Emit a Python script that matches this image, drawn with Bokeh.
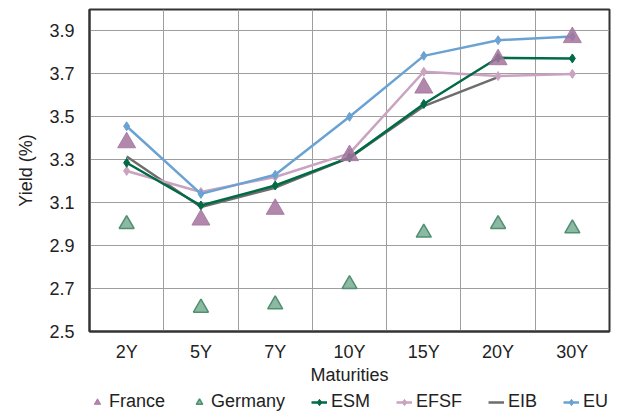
from bokeh.plotting import figure
from bokeh.layouts import column
from bokeh.models import FixedTicker, Legend, LegendItem, ColumnDataSource
from bokeh.embed import file_html
from bokeh.resources import INLINE

maturities = ["2Y", "5Y", "7Y", "10Y", "15Y", "20Y", "30Y"]
france = [3.38, 3.02, 3.07, 3.32, 3.635, 3.767, 3.87]
germany = [3.00, 2.61, 2.626, 2.72, 2.96, 3.00, 2.98]
esm = [3.286, 3.087, 3.18, 3.31, 3.56, 3.775, 3.772]
efsf = [3.248, 3.15, 3.22, 3.33, 3.71, 3.69, 3.70]
eib = [3.315, 3.08, 3.17, 3.31, 3.55, 3.685, float("nan")]
eu = [3.456, 3.141, 3.23, 3.50, 3.784, 3.857, 3.874]
y_ticks = [2.5, 2.7, 2.9, 3.1, 3.3, 3.5, 3.7, 3.9]

xpos = [i + 0.5 for i in range(len(maturities))]
src = ColumnDataSource(dict(x=xpos, france=france, germany=germany, esm=esm,
                            efsf=efsf, eib=eib, eu=eu))

FONT = "Liberation Sans"
TXT = "#222222"

C_FRA = "#a3739d"
C_GER_F, C_GER_L = "#8db8a2", "#4f8f72"
C_ESM = "#006b45"
C_EFSF = "#c9a3c0"
C_EIB = "#6d6d6d"
C_EU = "#6aa3d3"
LW = 2.5


def draw(fig):
    """Draw all series on a figure; return renderers for the legend."""
    r = {}
    r["eib"] = fig.line("x", "eib", source=src, line_color=C_EIB, line_width=LW)
    r["efsf_l"] = fig.line("x", "efsf", source=src, line_color=C_EFSF, line_width=LW)
    r["efsf_m"] = fig.scatter("x", "efsf", source=src, marker="diamond", size=9,
                              fill_color=C_EFSF, line_color=C_EFSF)
    r["esm_l"] = fig.line("x", "esm", source=src, line_color=C_ESM, line_width=LW)
    r["esm_m"] = fig.scatter("x", "esm", source=src, marker="diamond", size=9,
                             fill_color=C_ESM, line_color=C_ESM)
    r["eu_l"] = fig.line("x", "eu", source=src, line_color=C_EU, line_width=LW)
    r["eu_m"] = fig.scatter("x", "eu", source=src, marker="diamond", size=9,
                            fill_color=C_EU, line_color=C_EU)
    r["ger"] = fig.scatter("x", "germany", source=src, marker="triangle", size=15,
                           fill_color=C_GER_F, line_color=C_GER_L, line_width=1.5)
    r["fra"] = fig.scatter("x", "france", source=src, marker="triangle", size=18,
                           fill_color=C_FRA, fill_alpha=0.85, line_color=C_FRA, line_alpha=0.85)
    return r


p = figure(width=625, height=391, x_range=(0, len(maturities)), y_range=(2.5, 4.0),
           output_backend="svg", toolbar_location=None,
           min_border_left=89, min_border_right=16, min_border_top=9, min_border_bottom=60)

p.outline_line_color = "#333333"
p.outline_line_width = 2

p.xaxis.ticker = FixedTicker(ticks=xpos)
p.xaxis.major_label_overrides = {x: m for x, m in zip(xpos, maturities)}
p.yaxis.ticker = FixedTicker(ticks=y_ticks)
for ax in (p.xaxis[0], p.yaxis[0]):
    ax.major_tick_line_color = None
    ax.minor_tick_line_color = None
    ax.axis_line_color = "#333333"
    ax.axis_line_width = 2
    ax.major_label_text_font = FONT
    ax.major_label_text_font_size = "18px"
    ax.major_label_text_color = TXT
    ax.axis_label_text_font = FONT
    ax.axis_label_text_font_size = "18px"
    ax.axis_label_text_font_style = "normal"
    ax.axis_label_text_color = TXT
p.xaxis.axis_label = "Maturities"
p.yaxis.axis_label = "Yield (%)"
p.xaxis.major_label_standoff = 4
p.xaxis.axis_label_standoff = 0
p.yaxis.major_label_standoff = 9
p.yaxis.axis_label_standoff = 10

p.xgrid.ticker = FixedTicker(ticks=list(range(1, len(maturities))))
p.ygrid.ticker = FixedTicker(ticks=y_ticks)
for g in (p.xgrid[0], p.ygrid[0]):
    g.grid_line_color = "#9e9e9e"
    g.grid_line_width = 1

draw(p)

# legend strip: same series, drawn outside its visible range, only the legend shows
lg = figure(width=625, height=21, x_range=(100, 101), y_range=(100, 101),
            output_backend="svg", toolbar_location=None,
            x_axis_location=None, y_axis_location=None,
            min_border_left=89, min_border_right=16, min_border_top=0, min_border_bottom=0)
lg.outline_line_color = None
lg.grid.visible = False
lr = draw(lg)

legend = Legend(items=[
    LegendItem(label="France", renderers=[lr["fra"]]),
    LegendItem(label="Germany", renderers=[lr["ger"]]),
    LegendItem(label="ESM", renderers=[lr["esm_l"], lr["esm_m"]]),
    LegendItem(label="EFSF", renderers=[lr["efsf_l"], lr["efsf_m"]]),
    LegendItem(label="EIB", renderers=[lr["eib"]]),
    LegendItem(label="EU", renderers=[lr["eu_l"], lr["eu_m"]]),
], orientation="horizontal", location=(0, 0))
legend.label_text_font = FONT
legend.label_text_font_size = "18px"
legend.label_text_color = TXT
legend.glyph_width = 16
legend.glyph_height = 20
legend.label_height = 20
legend.label_standoff = 4
legend.spacing = 26
legend.padding = 0
legend.margin = 0
legend.border_line_color = None
legend.background_fill_alpha = 0
lg.add_layout(legend, "center")

layout = column(p, lg, spacing=0)
open("out.html", "w").write(file_html(layout, INLINE))
